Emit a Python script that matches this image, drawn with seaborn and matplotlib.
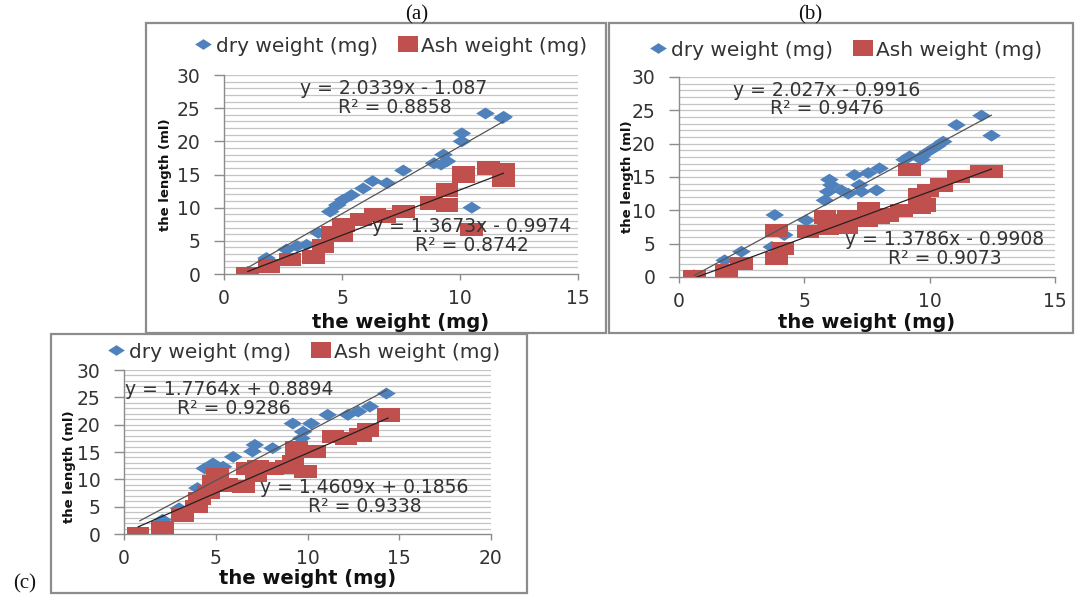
import numpy as np
import pandas as pd
import matplotlib
matplotlib.use("Agg")
import matplotlib.pyplot as plt
import seaborn as sns
from matplotlib.path import Path
from matplotlib.patches import Rectangle
from matplotlib.lines import Line2D

sns.set_style("white")
plt.rcParams["font.family"] = ["DejaVu Sans"]

# ---------------- data ----------------
panel_names = ["(a)", "(b)", "(c)"]
series_names = ["dry weight (mg)", "Ash weight (mg)"]
x_label = "the weight (mg)"
y_label = "the length (ml)"
x_max = [15, 15, 20]
x_ticks_a = [0, 5, 10, 15]
x_ticks_c = [0, 5, 10, 15, 20]
y_ticks = [0, 5, 10, 15, 20, 25, 30]

# panel (a)
a_dry_x = [1.0, 1.8, 2.65, 3.1, 3.5, 4.0, 4.5, 4.8, 5.05, 5.4, 5.9, 6.3, 6.9, 7.6,
           8.9, 9.2, 9.3, 9.45, 10.08, 10.08, 10.5, 11.08, 11.8, 11.85]
a_dry_y = [0.3, 2.4, 3.7, 4.2, 4.4, 6.2, 9.4, 10.4, 11.2, 11.9, 12.9, 14.0, 13.7, 15.6,
           16.7, 16.5, 18.0, 17.0, 20.0, 21.2, 10.0, 24.2, 23.5, 23.7]
a_ash_x = [1.0, 1.9, 2.8, 3.8, 4.2, 4.6, 5.0, 5.06, 5.8, 6.4, 6.8, 7.6, 8.8, 9.45,
           9.45, 10.15, 10.15, 10.5, 11.2, 11.85, 11.85]
a_ash_y = [0.0, 1.2, 2.2, 2.6, 4.2, 6.2, 5.8, 7.4, 8.2, 8.9, 8.7, 9.4, 10.7, 10.4,
           12.7, 14.7, 15.3, 6.7, 16.0, 15.7, 14.2]

# panel (b)
b_dry_x = [0.6, 1.82, 2.49, 3.7, 3.82, 4.2, 5.08, 5.82, 5.95, 6.0, 6.08, 6.48, 6.75,
           7.0, 7.2, 7.28, 7.55, 7.88, 8.0, 9.0, 9.2, 9.68, 9.68, 9.94, 10.28, 10.54,
           11.07, 12.07, 12.47]
b_dry_y = [0.25, 2.5, 3.8, 4.5, 9.3, 6.3, 8.5, 11.5, 12.8, 14.6, 13.8, 13.0, 12.5,
           15.3, 13.8, 12.8, 15.6, 13.0, 16.3, 17.6, 18.1, 18.1, 17.6, 18.8, 19.6, 20.3,
           22.8, 24.2, 21.2]
b_ash_x = [0.63, 1.9, 2.49, 3.89, 3.89, 4.15, 5.15, 5.82, 5.95, 6.48, 6.68, 6.75,
           7.47, 7.55, 7.95, 8.34, 8.88, 9.2, 9.6, 9.6, 9.8, 9.94, 10.48, 11.14, 12.07,
           12.47]
b_ash_y = [0.0, 1.0, 2.0, 2.8, 7.0, 4.3, 6.8, 9.0, 7.3, 8.5, 7.5, 9.0, 8.5, 10.3,
           9.0, 9.3, 10.0, 16.1, 10.5, 12.3, 10.8, 13.0, 13.8, 15.1, 15.8, 15.8]

# panel (c)
c_dry_x = [0.85, 2.1, 3.0, 4.0, 4.4, 4.85, 5.4, 5.95, 7.0, 7.13, 8.1, 9.2, 9.67,
           9.76, 10.2, 11.1, 12.2, 12.76, 13.4, 14.3]
c_dry_y = [0.4, 2.6, 4.7, 8.4, 12.0, 12.9, 12.3, 14.1, 15.1, 16.3, 15.7, 20.2, 17.5,
           18.7, 20.2, 21.8, 21.8, 22.4, 23.3, 25.7]
c_ash_x = [0.76, 2.1, 3.2, 3.95, 4.1, 4.6, 4.85, 5.1, 5.6, 6.5, 6.7, 7.2, 7.3, 8.1,
           8.85, 9.2, 9.4, 9.9, 10.4, 11.4, 12.1, 12.9, 13.3, 14.4]
c_ash_y = [0.0, 1.2, 3.5, 5.0, 6.5, 7.7, 9.6, 10.8, 9.0, 8.7, 12.0, 10.8, 12.3, 12.0,
           12.3, 13.2, 15.7, 11.4, 15.1, 17.8, 17.5, 18.1, 19.0, 21.8]

# trendline equations printed on the chart (dry, ash) per panel
slopes = [[2.0339, 1.3673], [2.027, 1.3786], [1.7764, 1.4609]]
intercepts = [[-1.087, -0.9974], [-0.9916, -0.9908], [0.8894, 0.1856]]
r_squared = [[0.8858, 0.8742], [0.9476, 0.9073], [0.9286, 0.9338]]

# ---------------- styling ----------------
W, H = 1075, 596
BLUE = "#4F81BD"
RED = "#C0504D"
GRID = "#c4c4c4"
AXC = "#8c8c8c"
FS = 13.5

fig = plt.figure(figsize=(W / 100, H / 100), dpi=100)
fig.patch.set_facecolor("white")


def fx(px):
    return px / W


def fy(py):
    return 1 - py / H


diamond = Path([(-1, 0), (0, 0.64), (1, 0), (0, -0.64), (-1, 0)],
               [Path.MOVETO, Path.LINETO, Path.LINETO, Path.LINETO, Path.CLOSEPOLY])
square = Path([(-1, -0.6), (1, -0.6), (1, 0.6), (-1, 0.6), (-1, -0.6)],
              [Path.MOVETO, Path.LINETO, Path.LINETO, Path.LINETO, Path.CLOSEPOLY])
leg_square = Path([(-1, -0.8), (1, -0.8), (1, 0.8), (-1, 0.8), (-1, -0.8)],
                  [Path.MOVETO, Path.LINETO, Path.LINETO, Path.LINETO, Path.CLOSEPOLY])

layouts = [
    dict(box=(146, 23, 606, 333), ax=(224, 75, 578, 274), leg=(390, 46),
         ylab=(-58, 0.5), xlab=48, plabel=(417, 15),
         eq=[((7.2, 27.9), (7.25, 25.1)), ((10.5, 7.2), (10.5, 4.3))]),
    dict(box=(609, 23, 1073, 333), ax=(679, 77, 1055, 277), leg=(845, 50),
         ylab=(-52, 0.5), xlab=45, plabel=(810, 15),
         eq=[((5.9, 28.0), (5.9, 25.2)), ((10.6, 5.6), (10.6, 2.8))]),
    dict(box=(51, 334, 527, 593), ax=(124, 370, 491, 534), leg=(303, 352),
         ylab=(-54, 0.41), xlab=44, plabel=(25, 584),
         eq=[((5.76, 26.5), (6.0, 22.9)), ((13.1, 8.5), (13.1, 5.0))]),
]

data = [
    (a_dry_x, a_dry_y, a_ash_x, a_ash_y),
    (b_dry_x, b_dry_y, b_ash_x, b_ash_y),
    (c_dry_x, c_dry_y, c_ash_x, c_ash_y),
]

for i, lay in enumerate(layouts):
    bl, bt, br, bb = lay["box"]
    fig.add_artist(Rectangle((fx(bl), fy(bb)), fx(br - bl), (bb - bt) / H,
                             transform=fig.transFigure, fill=False,
                             edgecolor=AXC, lw=1.6, zorder=0))
    al, at, ar, ab = lay["ax"]
    ax = fig.add_axes([fx(al), fy(ab), fx(ar - al), (ab - at) / H])
    ax.set_facecolor("none")

    dx, dy, sx, sy = data[i]
    df = pd.concat([
        pd.DataFrame({"x": dx, "y": dy, "series": series_names[0]}),
        pd.DataFrame({"x": sx, "y": sy, "series": series_names[1]}),
    ])

    for yv in range(1, 31):
        ax.axhline(yv, color=GRID, lw=0.9, zorder=0)

    d0 = df[df["series"] == series_names[0]]
    d1 = df[df["series"] == series_names[1]]
    sns.scatterplot(data=d0, x="x", y="y", ax=ax, color=BLUE, marker=diamond,
                    s=180, linewidth=0, edgecolor="none", legend=False, zorder=3)
    sns.scatterplot(data=d1, x="x", y="y", ax=ax, color=RED, marker=square,
                    s=265, linewidth=0, edgecolor="none", legend=False, zorder=4)

    for j, (xs, col) in enumerate([(dx, "#555555"), (sx, "#222222")]):
        xr = np.array([min(xs), max(xs)])
        yr = slopes[i][j] * xr + intercepts[i][j]
        sns.lineplot(x=xr, y=yr, ax=ax, color=col, lw=0.9, zorder=5)
        b = intercepts[i][j]
        sign = "-" if b < 0 else "+"
        (ex, ey), (rx, ry) = lay["eq"][j]
        ax.text(ex, ey, f"y = {slopes[i][j]:g}x {sign} {abs(b):g}", ha="center",
                va="center", fontsize=FS, color="#333333", zorder=6, clip_on=False)
        ax.text(rx, ry, f"R\u00b2 = {r_squared[i][j]:g}", ha="center",
                va="center", fontsize=FS, color="#333333", zorder=6, clip_on=False)

    ax.set_xlim(0, x_max[i])
    ax.set_ylim(0, 30)
    ax.set_xticks(x_ticks_c if x_max[i] == 20 else x_ticks_a)
    ax.set_yticks(y_ticks)
    for sp in ["top", "right"]:
        ax.spines[sp].set_visible(False)
    for sp in ["left", "bottom"]:
        ax.spines[sp].set_color(AXC)
        ax.spines[sp].set_linewidth(1.0)
    ax.tick_params(axis="y", direction="out", length=7, width=1, color=AXC,
                   pad=10, labelsize=FS, labelcolor="#333333", left=True)
    ax.tick_params(axis="x", direction="out", length=4, width=1, color=AXC,
                   pad=7, labelsize=FS, labelcolor="#333333", bottom=True)

    ax.set_xlabel(x_label, fontsize=14, fontweight="bold", color="#111111")
    ax.set_ylabel(y_label, fontsize=9.5, fontweight="bold", color="#111111")
    ax_w = ar - al
    ax_h = ab - at
    ax.yaxis.set_label_coords(lay["ylab"][0] / ax_w, lay["ylab"][1])
    ax.xaxis.set_label_coords(0.5, -lay["xlab"] / ax_h)
    ax.xaxis.label.set_va("center")
    ax.yaxis.label.set_va("center")

    handles = [
        Line2D([], [], ls="none", marker=diamond, markersize=12,
               markerfacecolor=BLUE, markeredgewidth=0),
        Line2D([], [], ls="none", marker=leg_square, markersize=14,
               markerfacecolor=RED, markeredgewidth=0),
    ]
    lx, ly = lay["leg"]
    fig.legend(handles, series_names, loc="center", bbox_to_anchor=(fx(lx), fy(ly)),
               ncol=2, frameon=False, fontsize=14.5, handletextpad=0.15,
               columnspacing=1.0, handlelength=1.0, labelcolor="#333333",
               borderpad=0.2)

    px_, py_ = lay["plabel"]
    fig.text(fx(px_), fy(py_), panel_names[i], ha="center", va="center",
             fontsize=15, family="Liberation Serif", color="#111111")

fig.savefig("out.png", dpi=100, facecolor="white")
